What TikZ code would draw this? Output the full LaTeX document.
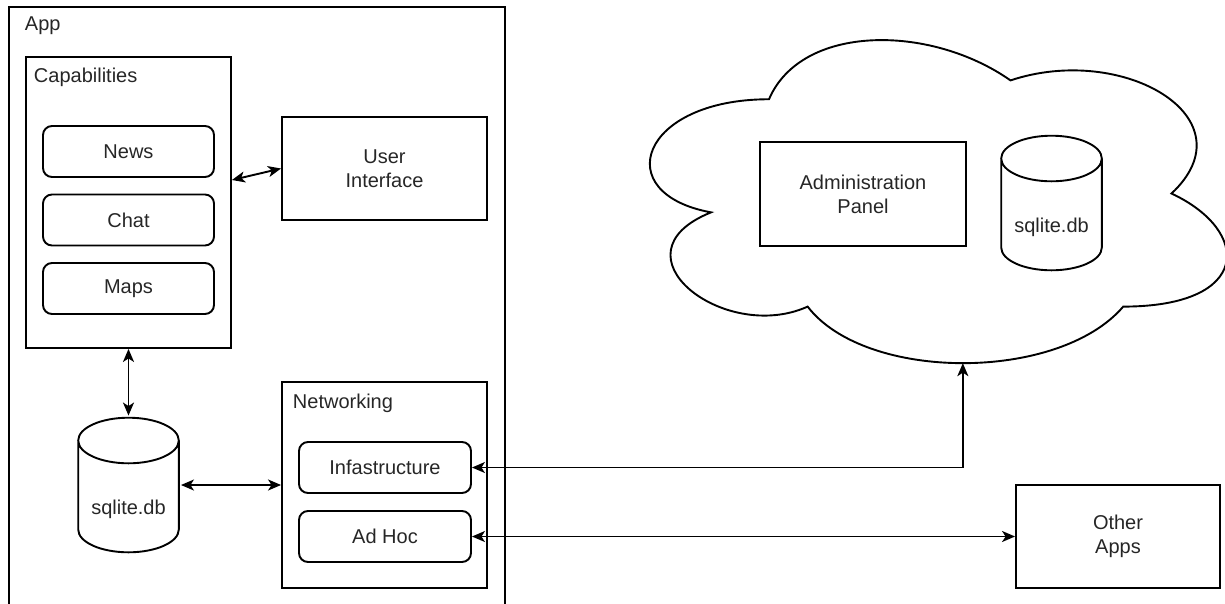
\documentclass[tikz,border=0pt]{standalone}
\usepackage{fontspec}
\setmainfont{Liberation Sans}
\usetikzlibrary{arrows.meta,positioning,calc}
\tikzset{
  box/.style={
    draw,
    minimum width=205pt,
    minimum height=103pt,
    inner sep=0pt,
    align=center
  },
  roundbox/.style={
    box,
    rounded corners=9pt,
    minimum width=171pt,
    minimum height=51pt
  },
  group/.style={
    draw,
    inner sep=0pt
  },
  grouptitle/.style={
    anchor=base west,
    inner sep=0pt
  },
  dbstore/.style={
    minimum width=103pt,
    minimum height=137pt,
    inner sep=0pt,
    text height=58pt,
    text depth=0pt,
    path picture={
      \draw let \p1=(path picture bounding box.north west),
                \p2=(path picture bounding box.south east),
                \n1={(\x2-\x1)/2-1.2pt} in
        ({\x1+1.2pt},{\y1-24pt}) -- ({\x1+1.2pt},{\y2+24pt})
        arc[start angle=180, end angle=360, x radius=\n1, y radius=22.8pt]
        -- ({\x2-1.2pt},{\y1-24pt})
        arc[start angle=0, end angle=180, x radius=\n1, y radius=22.8pt]
        arc[start angle=180, end angle=360, x radius=\n1, y radius=22.8pt];
    }
  }
}

\begin{document}
\begin{tikzpicture}[%
        x=1pt,
        y=-1pt,
        >={Stealth[length=13pt,width=11pt,inset=3.5pt]},
        line width=1.9pt,
        font=\fontsize{20}{24}\selectfont,
        text=black!85,
        on grid,
        node distance=68.5pt and 256pt]
      \useasboundingbox (0,0) rectangle (1225,603);
      \node[group, anchor=north west, minimum width=496pt, minimum height=640pt] (app) at (8,6) {};
      \node[grouptitle] (app_t)  at (24,30)  {App};
      \node[group, minimum width=205pt, minimum height=291pt] (caps) at (128.5,202.5) {};
      \node[grouptitle] (caps_t) at (33,82)  {Capabilities};
      \node[roundbox]   (news)   at (128.5,151.5) {News};
      \node[roundbox]   (chat)   [below=of news]  {Chat};
      \node[roundbox]   (maps)   [below=of chat]  {Maps};
      \node[box]        (ui)     at (384.5,168.5) {User\\Interface};
      \node[dbstore]    (db_app) at (128.5,485)   {sqlite.db};
      \node[group, minimum width=205pt, minimum height=206pt] (net) at (384.5,485) {};
      \node[grouptitle] (net_t)  at (292,408) {Networking};
      \node[roundbox, minimum width=172pt] (infra) at (385,467.5)      {Infastructure};
      \node[roundbox, minimum width=172pt] (adhoc) [below=69pt of infra] {Ad Hoc};
      \begin{scope}[shift={(608,5)}, x=6.44pt, y=-3.77pt]
        \draw (25,25) .. controls (5,25) and (0,50) .. (16,55)
              .. controls (0,66) and (18,90) .. (31,80)
              .. controls (40,100) and (70,100) .. (80,80)
              .. controls (100,80) and (100,60) .. (87.5,50)
              .. controls (100,30) and (80,10) .. (62.5,20)
              .. controls (50,5) and (30,5) .. (25,25) -- cycle;
        \coordinate (cloudbot) at (55.1,95);
      \end{scope}
      \node[box, minimum width=206pt, minimum height=104pt] (admin) at (863,194) {Administration\\Panel};
      \node[dbstore]    (db_cloud) at (1051.5,203) {sqlite.db};
      \node[box, minimum width=204pt] (other) at (1118,536.5) {Other\\Apps};
      \path[<->] ([yshift=22.5pt]caps.east) edge (ui.west)
                 (caps.south)  edge (db_app.north)
                 (db_app.east) edge (net.west)
                 (adhoc.east)  edge (other.west);
      \draw[<->] (infra.east) -| (cloudbot);
\end{tikzpicture}
\end{document}
